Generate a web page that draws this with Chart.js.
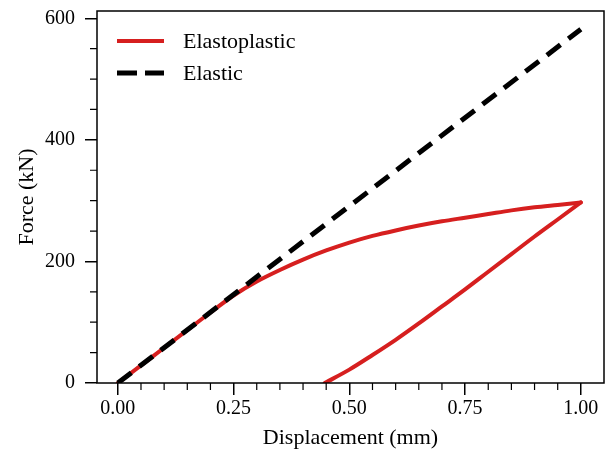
<!DOCTYPE html>
<html>
<head>
<meta charset="utf-8">
<script src="https://cdn.jsdelivr.net/npm/chart.js@4"></script>
<style>
  body { margin: 0; background: #fff; }
</style>
</head>
<body>
<canvas id="chart" width="609" height="452"></canvas>
<script>
// loading branch (elastoplastic)
const dispLoad = [0, 0.05, 0.1, 0.15, 0.2, 0.25, 0.3, 0.35, 0.4, 0.45, 0.5, 0.55, 0.6, 0.65, 0.7, 0.75, 0.8, 0.85, 0.9, 0.95, 1.0];
const forceLoad = [0, 29, 58, 87, 116, 144, 167, 186, 203, 218, 231, 242, 251, 259, 266, 272, 278, 284, 289, 293, 297];
// unloading branch (elastoplastic)
const dispUnload = [0.447, 0.5, 0.55, 0.6, 0.65, 0.7, 0.75, 0.8, 0.85, 0.9, 0.95, 1.0];
const forceUnload = [0, 22, 46, 71, 98, 126, 154, 183, 212, 241, 269, 297];
// elastic
const dispElastic = [0, 1.0];
const forceElastic = [0, 582];

const xTicks = [0, 0.25, 0.5, 0.75, 1.0];
const yTicks = [0, 200, 400, 600];

const red = '#d61f1f';
const font = 'Liberation Serif';

const pts = (xs, ys) => xs.map((x, i) => ({ x: x, y: ys[i] }));

const legendItems = [
    { label: 'Elastoplastic', color: red, width: 4, dash: [] },
    { label: 'Elastic', color: '#000', width: 5, dash: [20, 8] }
];

const extras = {
    id: 'extras',
    afterDraw(chart) {
        const c = chart.ctx;
        const a = chart.chartArea;
        const xs = chart.scales.x, ys = chart.scales.y;
        c.save();
        c.strokeStyle = '#000';
        c.lineWidth = 1.5;
        c.strokeRect(a.left, a.top, a.right - a.left, a.bottom - a.top);
        // minor ticks
        c.lineWidth = 1.2;
        c.beginPath();
        for (let i = 1; i < 20; i++) {
            if (i % 5 === 0) continue;
            const px = xs.getPixelForValue(i * 0.05);
            c.moveTo(px, a.bottom);
            c.lineTo(px, a.bottom + 7);
        }
        for (let v = 50; v < 600; v += 50) {
            if (v % 200 === 0) continue;
            const py = ys.getPixelForValue(v);
            c.moveTo(a.left, py);
            c.lineTo(a.left - 7, py);
        }
        c.stroke();
        // legend inside plot
        c.font = '22px "' + font + '"';
        c.textBaseline = 'middle';
        c.fillStyle = '#000';
        legendItems.forEach((it, i) => {
            const y = a.top + 30 + i * 32;
            c.beginPath();
            c.strokeStyle = it.color;
            c.lineWidth = it.width;
            c.setLineDash(it.dash);
            c.moveTo(a.left + 20, y);
            c.lineTo(a.left + 67, y);
            c.stroke();
            c.setLineDash([]);
            c.fillText(it.label, a.left + 86, y + 1);
        });
        c.restore();
    }
};

new Chart(document.getElementById('chart'), {
    type: 'line',
    data: {
        datasets: [
            {
                label: 'Elastic',
                data: pts(dispElastic, forceElastic),
                borderColor: '#000',
                borderWidth: 5,
                borderDash: [17, 10],
                pointRadius: 0
            },
            {
                label: 'Elastoplastic',
                data: pts(dispLoad, forceLoad),
                borderColor: red,
                borderWidth: 4,
                cubicInterpolationMode: 'monotone',
                borderCapStyle: 'round',
                pointRadius: 0
            },
            {
                label: 'Elastoplastic',
                data: pts(dispUnload, forceUnload),
                borderColor: red,
                borderWidth: 4,
                cubicInterpolationMode: 'monotone',
                borderCapStyle: 'round',
                pointRadius: 0
            }
        ]
    },
    options: {
        responsive: false,
        animation: false,
        layout: { padding: { left: 0, right: 5, top: 11, bottom: 0 } },
        plugins: {
            legend: { display: false },
            tooltip: { enabled: false }
        },
        scales: {
            x: {
                type: 'linear',
                min: -0.045,
                max: 1.05,
                afterBuildTicks: (s) => { s.ticks = xTicks.map(v => ({ value: v })); },
                afterFit: (s) => { s.height = 69; s.paddingLeft = 0; s.paddingRight = 0; },
                ticks: {
                    color: '#000',
                    padding: 2,
                    font: { family: font, size: 20 },
                    callback: (v) => Number(v).toFixed(2)
                },
                grid: { drawOnChartArea: false, color: '#000', tickLength: 12, lineWidth: 1.5 },
                border: { display: false },
                title: {
                    display: true,
                    text: 'Displacement (mm)',
                    color: '#000',
                    font: { family: font, size: 22 },
                    padding: { top: 0, bottom: 1 }
                }
            },
            y: {
                type: 'linear',
                min: 0,
                max: 612,
                afterBuildTicks: (s) => { s.ticks = yTicks.map(v => ({ value: v })); },
                afterFit: (s) => { s.width = 97; s.paddingTop = 0; s.paddingBottom = 0; },
                ticks: {
                    color: '#000',
                    padding: 10,
                    font: { family: font, size: 20 }
                },
                grid: { drawOnChartArea: false, color: '#000', tickLength: 12, lineWidth: 1.5 },
                border: { display: false },
                title: {
                    display: true,
                    text: 'Force (kN)',
                    color: '#000',
                    font: { family: font, size: 22 },
                    padding: { top: 14, bottom: 0 }
                }
            }
        }
    },
    plugins: [extras]
});
</script>
</body>
</html>
